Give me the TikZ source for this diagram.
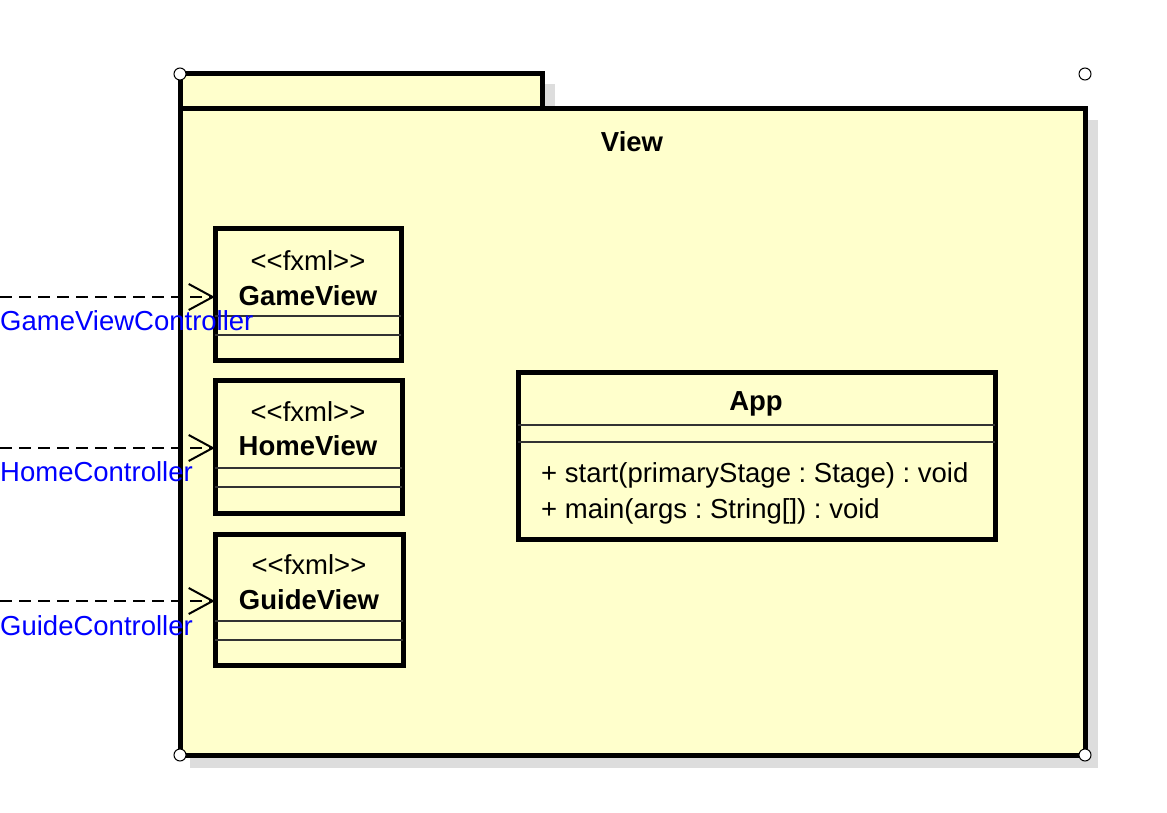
\documentclass[tikz,border=0pt]{standalone}
\usepackage{fontspec}
\setmainfont{Liberation Sans}
\usetikzlibrary{arrows.meta}
\frenchspacing
\definecolor{pkgfill}{HTML}{FFFFCC}
\definecolor{shadowgray}{HTML}{DDDDDD}
\definecolor{sepgray}{HTML}{333333}
\definecolor{lblblue}{HTML}{0000FF}
\newcommand{\stereo}[1]{{<}{<}#1{>}{>}}
\tikzset{
  thickbox/.style={draw=black, line width=5pt, fill=pkgfill},
  sepline/.style={draw=sepgray, line width=2pt},
  handle/.style={circle, draw=black, fill=white, line width=1pt, inner sep=0pt, minimum size=12pt},
  txt/.style={font=\fontsize{27.5}{31}\selectfont, inner sep=0pt},
  btxt/.style={font=\fontsize{27.5}{31}\selectfont\bfseries, inner sep=0pt},
  lbl/.style={font=\fontsize{27.5}{31}\selectfont, text=lblblue, inner sep=0pt, anchor=west},
  dep/.style={draw=black, line width=2pt, dash pattern=on 12pt off 7pt, -{Straight Barb[length=24pt,width=26pt,line width=2pt]}},
}
\begin{document}
\begin{tikzpicture}[x=1pt,y=-1pt]
\useasboundingbox (0,0) rectangle (1167,813);
% shadows
\fill[shadowgray] (190,84) rectangle (555,120);
\fill[shadowgray] (190,120) rectangle (1098,768);
% package tab and body
\draw[thickbox] (180,74) rectangle (542,109);
\draw[thickbox] (180,109) rectangle (1085,755);
\node[btxt] (viewlbl) at (632,142) {View};
% handles
\node[handle] (h1) at (180,74) {};
\node[handle] (h2) at (1085,74) {};
\node[handle] (h3) at (180,755) {};
\node[handle] (h4) at (1085,755) {};

% GameView
\draw[thickbox] (215,229) rectangle (401,360);
\node[draw=none, minimum width=186pt, minimum height=131pt, inner sep=0pt] (gv) at (308,294.5) {};
\node[txt] (gvst) at (308,261) {\stereo{fxml}};
\node[btxt] (gvnm) at (308,296) {GameView};
\draw[sepline] (215,316) -- (401,316);
\draw[sepline] (215,335) -- (401,335);

% HomeView
\draw[thickbox] (215,380) rectangle (402,513);
\node[draw=none, minimum width=187pt, minimum height=133pt, inner sep=0pt] (hv) at (308.5,446.5) {};
\node[txt] (hvst) at (308,412) {\stereo{fxml}};
\node[btxt] (hvnm) at (308,446) {HomeView};
\draw[sepline] (215,468) -- (402,468);
\draw[sepline] (215,487) -- (402,487);

% GuideView
\draw[thickbox] (215,534) rectangle (403,665);
\node[draw=none, minimum width=188pt, minimum height=131pt, inner sep=0pt] (gdv) at (309,599.5) {};
\node[txt] (gdst) at (309,565) {\stereo{fxml}};
\node[btxt] (gdnm) at (309,600) {GuideView};
\draw[sepline] (215,621) -- (403,621);
\draw[sepline] (215,640) -- (403,640);

% App
\draw[thickbox] (518,372) rectangle (995,539);
\node[btxt] (appnm) at (756,404) {App};
\draw[sepline] (518,425) -- (995,425);
\draw[sepline] (518,442) -- (995,442);
\node[txt, anchor=west] (m1) at (541,475) {+ start(primaryStage : Stage) : void};
\node[txt, anchor=west] (m2) at (541,511) {+ main(args : String[]) : void};

% dependencies
\coordinate (c1) at (0,297);
\coordinate (c2) at (0,448);
\coordinate (c3) at (0,601);
\draw[dep] (c1) -- (c1 -| gv.west);
\draw[dep] (c2) -- (c2 -| hv.west);
\draw[dep] (c3) -- (c3 -| gdv.west);
\node[lbl] (l1) at (0,321) {GameViewController};
\node[lbl] (l2) at (0,472) {HomeController};
\node[lbl] (l3) at (0,626) {GuideController};
\end{tikzpicture}
\end{document}
